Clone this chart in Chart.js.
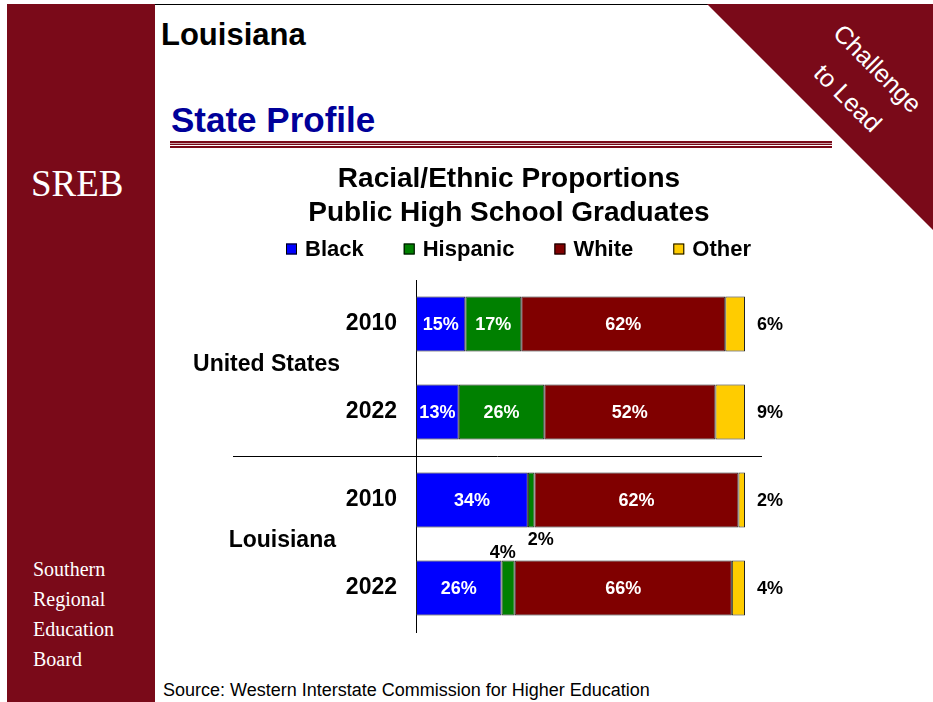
<!DOCTYPE html>
<html>
<head>
<meta charset="utf-8">
<title>Louisiana - Racial/Ethnic Proportions</title>
<script src="https://cdn.jsdelivr.net/npm/chart.js@4.4.1/dist/chart.umd.min.js"></script>
<style>
  html, body { margin: 0; padding: 0; background: #fff; }
  body { width: 933px; height: 702px; position: relative; overflow: hidden;
         font-family: "Liberation Sans", Arial, Helvetica, sans-serif; }
  .abs { position: absolute; }
  #sidebar { left: 7px; top: 4px; width: 148px; height: 698px; background: #7a0a19; }
  #topline { left: 155px; top: 4px; width: 778px; height: 1px; background: #000; }
  #corner { left: 707px; top: 4px; width: 226px; height: 226px; background: #7a0a19;
            clip-path: polygon(0 0, 100% 0, 100% 100%); }
  #slogan { left: 763px; top: 41px; width: 200px; height: 84px; color: #fff;
            font-size: 25px; line-height: 42px; text-align: center; transform: rotate(45deg); }
  #state { left: 161px; top: 19px; font-size: 31px; line-height: 31px; font-weight: bold; color: #000; }
  #profile { left: 171px; top: 102px; font-size: 35px; line-height: 35px; font-weight: bold; color: #000099; }
  #rule { left: 170px; top: 141px; width: 662px; height: 7px;
          background: linear-gradient(#7a0a19 0 2px, #c9a0a6 2px 3px, #7a0a19 3px 4px, #fff 4px 5px, #7a0a19 5px 7px); }
  #sreb { left: 31px; top: 165px; font-family: "Liberation Serif", "Times New Roman", serif;
          font-size: 37px; line-height: 37px; color: #fff; }
  #board { left: 33px; top: 554px; font-family: "Liberation Serif", "Times New Roman", serif;
           font-size: 20px; line-height: 30px; color: #fff; }
  #source { left: 163px; top: 680px; font-size: 18px; line-height: 20px; color: #000; }
  #chart { left: 160px; top: 150px; }
</style>
</head>
<body>
<div class="abs" id="sidebar"></div>
<div class="abs" id="topline"></div>
<div class="abs" id="corner"></div>
<div class="abs" id="slogan">Challenge<br>to Lead</div>
<div class="abs" id="state">Louisiana</div>
<div class="abs" id="profile">State Profile</div>
<div class="abs" id="rule"></div>
<div class="abs" id="sreb">SREB</div>
<div class="abs" id="board">Southern<br>Regional<br>Education<br>Board</div>
<div class="abs" id="source">Source: Western Interstate Commission for Higher Education</div>
<canvas class="abs" id="chart" width="773" height="522"></canvas>

<script>
// Données (en %)
const years = ['2010', '2022', '2010', '2022'];
const groups = ['United States', 'Louisiana'];
const black = [15, 13, 34, 26];
const hispanic = [17, 26, 2, 4];
const white = [62, 52, 62, 66];
const other = [6, 9, 2, 4];

const seriesNames = ['Black', 'Hispanic', 'White', 'Other'];
const seriesColors = ['#0000ff', '#008000', '#800000', '#ffcc00'];

const FONT = '"Liberation Sans", Arial, Helvetica, sans-serif';
Chart.defaults.font.family = FONT;
Chart.defaults.color = '#000';

// Légende dessinée à la main (carrés + texte, espacement du modèle)
const legendRow = {
  id: 'legendRow',
  afterDraw(chart) {
    const ctx = chart.ctx;
    const area = chart.chartArea;
    let x = area.left - 130;
    const y = area.top - 31;
    ctx.save();
    ctx.font = 'bold 22px ' + FONT;
    ctx.textBaseline = 'middle';
    ctx.textAlign = 'left';
    chart.data.datasets.forEach(ds => {
      ctx.fillStyle = ds.backgroundColor;
      ctx.fillRect(x, y - 5.5, 11, 11);
      ctx.strokeStyle = '#000';
      ctx.lineWidth = 1;
      ctx.strokeRect(x + 0.5, y - 5, 10, 10);
      ctx.fillStyle = '#000';
      ctx.fillText(ds.label, x + 19, y + 1);
      x += 19 + ctx.measureText(ds.label).width + 40;
    });
    ctx.restore();
  }
};

// Étiquettes de valeurs sur les barres
const barLabels = {
  id: 'barLabels',
  afterDatasetsDraw(chart) {
    const ctx = chart.ctx;
    const area = chart.chartArea;
    ctx.save();
    ctx.font = 'bold 18px ' + FONT;
    ctx.textBaseline = 'middle';
    chart.data.datasets.forEach((ds, di) => {
      chart.getDatasetMeta(di).data.forEach((bar, i) => {
        const v = ds.data[i];
        const txt = v + '%';
        if (di === 3) {
          ctx.fillStyle = '#000';
          ctx.textAlign = 'left';
          ctx.fillText(txt, area.right + 12, bar.y + 1);
        } else if (v >= 10) {
          ctx.fillStyle = '#fff';
          ctx.textAlign = 'center';
          ctx.fillText(txt, (bar.x + bar.base) / 2, bar.y + 1);
        } else if (i % 2 === 0) {
          // segment trop fin : étiquette sous la barre
          ctx.fillStyle = '#000';
          ctx.textAlign = 'left';
          ctx.fillText(txt, bar.base, bar.y + bar.height / 2 + 13);
        } else {
          // segment trop fin : étiquette au-dessus
          ctx.fillStyle = '#000';
          ctx.textAlign = 'right';
          ctx.fillText(txt, bar.x + 1, bar.y - bar.height / 2 - 7);
        }
      });
    });
    ctx.restore();
  }
};

// Noms des groupes et ligne de séparation
const groupLabels = {
  id: 'groupLabels',
  afterDraw(chart) {
    const ctx = chart.ctx;
    const area = chart.chartArea;
    const yScale = chart.scales.y;
    const rightEdge = [76, 80];
    ctx.save();
    ctx.font = 'bold 23px ' + FONT;
    ctx.textBaseline = 'middle';
    ctx.textAlign = 'right';
    ctx.fillStyle = '#000';
    groups.forEach((g, gi) => {
      const yMid = (yScale.getPixelForValue(gi * 2) + yScale.getPixelForValue(gi * 2 + 1)) / 2;
      ctx.fillText(g, area.left - rightEdge[gi], yMid - 3);
    });
    for (let gi = 1; gi < groups.length; gi++) {
      const ySep = Math.round((yScale.getPixelForValue(gi * 2 - 1) + yScale.getPixelForValue(gi * 2)) / 2) + 0.5;
      ctx.strokeStyle = '#000';
      ctx.lineWidth = 1;
      ctx.beginPath();
      ctx.moveTo(area.left - 183, ySep);
      ctx.lineTo(area.right + 17, ySep);
      ctx.stroke();
    }
    ctx.restore();
  }
};

const values = [black, hispanic, white, other];

const ctx = document.getElementById('chart').getContext('2d');
const chart = new Chart(ctx, {
  type: 'bar',
  data: {
    labels: years,
    datasets: seriesNames.map((name, k) => ({
      label: name,
      data: values[k],
      backgroundColor: seriesColors[k],
      borderColor: '#222',
      borderWidth: 1,
      borderSkipped: false,
      barPercentage: 0.625,
      categoryPercentage: 1.0
    }))
  },
  options: {
    indexAxis: 'y',
    responsive: false,
    animation: false,
    devicePixelRatio: 1,
    layout: { padding: { left: 113, right: 188, top: 0, bottom: 40 } },
    plugins: {
      legend: { display: false },
      tooltip: { enabled: false },
      title: {
        display: true,
        text: ['Racial/Ethnic Proportions', 'Public High School Graduates'],
        color: '#000',
        font: { size: 28, weight: 'bold', lineHeight: 34 / 28 },
        padding: { top: 12, bottom: 50 }
      }
    },
    scales: {
      x: { stacked: true, min: 0, max: 100, display: false },
      y: {
        stacked: true,
        grid: { display: false, drawTicks: false },
        border: { display: true, color: '#000', width: 1 },
        ticks: { color: '#000', padding: 19, font: { size: 23, weight: 'bold' } },
        afterFit(scale) { scale.width = 143; }
      }
    }
  },
  plugins: [legendRow, barLabels, groupLabels]
});
</script>
</body>
</html>
